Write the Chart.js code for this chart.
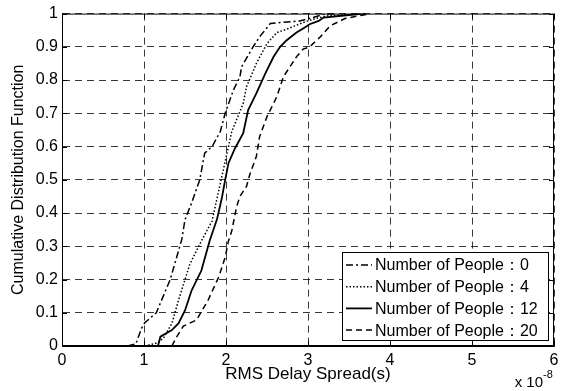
<!DOCTYPE html>
<html>
<head>
<meta charset="utf-8">
<script src="https://cdn.jsdelivr.net/npm/chart.js@4.4.0/dist/chart.umd.min.js"></script>
<style>
  body { margin: 0; background: #fff; }
  canvas { display: block; }
</style>
</head>
<body>
<canvas id="cdfChart" width="565" height="391"></canvas>
<script>
// values, x in units of 1e-8 s
const xTickValues = [0, 1, 2, 3, 4, 5, 6]
const yTickValues = [0, 0.1, 0.2, 0.3, 0.4, 0.5, 0.6, 0.7, 0.8, 0.9, 1]
const yTickLabels = ['0', '0.1', '0.2', '0.3', '0.4', '0.5', '0.6', '0.7', '0.8', '0.9', '1']
const seriesLabels = ['Number of People：0', 'Number of People：4', 'Number of People：12', 'Number of People：20']

const people0X = [0.80, 0.90, 0.97, 1.01, 1.15, 1.32, 1.46, 1.50, 1.58, 1.68, 1.74, 1.83, 1.93, 1.99, 2.09, 2.17, 2.19, 2.33, 2.41, 2.54, 2.66, 2.90, 3.06, 3.19, 3.33]
const people0Y = [0, 0.006, 0.053, 0.07, 0.10, 0.20, 0.32, 0.38, 0.43, 0.50, 0.58, 0.60, 0.645, 0.70, 0.77, 0.81, 0.84, 0.90, 0.93, 0.97, 0.973, 0.978, 0.988, 0.998, 1.0]

const people4X = [1.01, 1.17, 1.24, 1.34, 1.42, 1.56, 1.70, 1.83, 1.91, 2.03, 2.07, 2.21, 2.25, 2.37, 2.50, 2.62, 2.74, 2.94, 3.06, 3.23, 3.51, 3.63]
const people4Y = [0, 0.01, 0.025, 0.068, 0.137, 0.247, 0.316, 0.376, 0.466, 0.60, 0.645, 0.73, 0.78, 0.85, 0.91, 0.943, 0.953, 0.973, 0.983, 0.993, 0.998, 1.0]

const people12X = [1.17, 1.20, 1.34, 1.42, 1.50, 1.58, 1.70, 1.80, 1.89, 1.95, 1.99, 2.03, 2.11, 2.21, 2.27, 2.37, 2.48, 2.58, 2.66, 2.74, 2.86, 2.96, 3.02, 3.13, 3.19, 3.59, 3.70]
const people12Y = [0, 0.028, 0.048, 0.068, 0.107, 0.167, 0.227, 0.316, 0.381, 0.446, 0.50, 0.55, 0.595, 0.64, 0.71, 0.76, 0.82, 0.87, 0.90, 0.92, 0.943, 0.958, 0.968, 0.978, 0.988, 0.998, 1.0]

const people20X = [1.34, 1.40, 1.48, 1.64, 1.78, 1.91, 1.99, 2.03, 2.07, 2.13, 2.17, 2.25, 2.29, 2.37, 2.41, 2.50, 2.62, 2.70, 2.86, 2.94, 3.02, 3.15, 3.27, 3.45, 3.76]
const people20Y = [0, 0.028, 0.06, 0.078, 0.137, 0.207, 0.267, 0.316, 0.346, 0.42, 0.45, 0.48, 0.516, 0.57, 0.63, 0.69, 0.75, 0.81, 0.87, 0.893, 0.90, 0.93, 0.963, 0.985, 1.0]

const FONT = 'Arial, "Liberation Sans", sans-serif'

const toPoints = (xs, ys) => xs.map((x, i) => ({ x: x, y: ys[i] }))

const lineStyles = [
    { dash: [7, 3, 2, 3], width: 1.5 },
    { dash: [1.5, 2], width: 1.5 },
    { dash: [], width: 1.8 },
    { dash: [6, 4], width: 1.5 },
]

const seriesData = [
    toPoints(people0X, people0Y),
    toPoints(people4X, people4Y),
    toPoints(people12X, people12Y),
    toPoints(people20X, people20Y),
]

// box, inward ticks, legend and exponent label like the matlab figure
const matlabExtras = {
    id: 'matlabExtras',
    afterDraw(chart) {
        const ctx = chart.ctx
        const area = chart.chartArea
        const xs = chart.scales.x
        const ys = chart.scales.y
        ctx.save()
        ctx.strokeStyle = '#000'
        ctx.lineWidth = 1
        ctx.setLineDash([])
        ctx.strokeRect(area.left + 0.5, area.top + 0.5, area.right - area.left - 1, area.bottom - area.top - 1)

        const tickLen = 5
        ctx.beginPath()
        xTickValues.forEach(v => {
            const px = Math.round(xs.getPixelForValue(v)) + 0.5
            ctx.moveTo(px, area.bottom); ctx.lineTo(px, area.bottom - tickLen)
            ctx.moveTo(px, area.top); ctx.lineTo(px, area.top + tickLen)
        })
        yTickValues.forEach(v => {
            const py = Math.round(ys.getPixelForValue(v)) + 0.5
            ctx.moveTo(area.left, py); ctx.lineTo(area.left + tickLen, py)
            ctx.moveTo(area.right, py); ctx.lineTo(area.right - tickLen, py)
        })
        ctx.stroke()

        // legend
        const boxL = 342.5, boxT = 252.5, boxW = 206, boxH = 88
        ctx.fillStyle = '#fff'
        ctx.fillRect(boxL, boxT, boxW, boxH)
        ctx.strokeRect(boxL, boxT, boxW, boxH)
        ctx.font = '16px ' + FONT
        ctx.textBaseline = 'middle'
        ctx.textAlign = 'left'
        chart.data.datasets.forEach((ds, i) => {
            const rowY = 265 + i * 21.7
            ctx.beginPath()
            ctx.setLineDash(ds.borderDash)
            ctx.lineWidth = ds.borderWidth
            ctx.moveTo(346, rowY)
            ctx.lineTo(372, rowY)
            ctx.stroke()
            ctx.setLineDash([])
            ctx.fillStyle = '#000'
            ctx.fillText(ds.label, 375, rowY + 1)
        })

        // x 10^-8
        ctx.textAlign = 'right'
        ctx.font = '15px ' + FONT
        ctx.fillText('x 10', 543, 383)
        ctx.textAlign = 'left'
        ctx.font = '11px ' + FONT
        ctx.fillText('-8', 543, 375)
        ctx.restore()
    }
}

const cdfChart = new Chart(document.getElementById('cdfChart'), {
    type: 'scatter',
    data: {
        datasets: seriesData.map((pts, i) => ({
            label: seriesLabels[i],
            data: pts,
            showLine: true,
            borderColor: '#000',
            backgroundColor: '#000',
            borderWidth: lineStyles[i].width,
            borderDash: lineStyles[i].dash,
            pointRadius: 0,
            tension: 0,
        }))
    },
    options: {
        responsive: false,
        animation: false,
        events: [],
        layout: { padding: { top: 11, right: 11, left: 0, bottom: 0 } },
        plugins: {
            legend: { display: false },
            tooltip: { enabled: false },
        },
        scales: {
            x: {
                type: 'linear',
                min: 0,
                max: 6,
                afterBuildTicks: (scale) => { scale.ticks = xTickValues.map(v => ({ value: v })) },
                afterFit: (scale) => { scale.height = 45 },
                ticks: {
                    color: '#000',
                    font: { family: FONT, size: 16 },
                    padding: 5,
                    maxRotation: 0,
                    callback: (v) => String(v),
                },
                grid: { color: '#222', lineWidth: 0.9, drawTicks: false },
                border: { display: true, color: '#000', width: 1, dash: [7, 5] },
                title: {
                    display: true,
                    text: 'RMS Delay Spread(s)',
                    color: '#000',
                    font: { family: FONT, size: 17 },
                    padding: { top: 0, bottom: 6 },
                },
            },
            y: {
                type: 'linear',
                min: 0,
                max: 1,
                afterBuildTicks: (scale) => { scale.ticks = yTickValues.map(v => ({ value: v })) },
                afterFit: (scale) => { scale.width = 62 },
                ticks: {
                    color: '#000',
                    font: { family: FONT, size: 16 },
                    padding: 4,
                    callback: (v, i) => yTickLabels[i],
                },
                grid: { color: '#222', lineWidth: 0.9, drawTicks: false },
                border: { display: true, color: '#000', width: 1, dash: [7, 5] },
                title: {
                    display: true,
                    text: 'Cumulative Distribution Function',
                    color: '#000',
                    font: { family: FONT, size: 16 },
                    padding: { top: 9, bottom: 0 },
                },
            },
        },
    },
    plugins: [matlabExtras],
})
</script>
</body>
</html>
